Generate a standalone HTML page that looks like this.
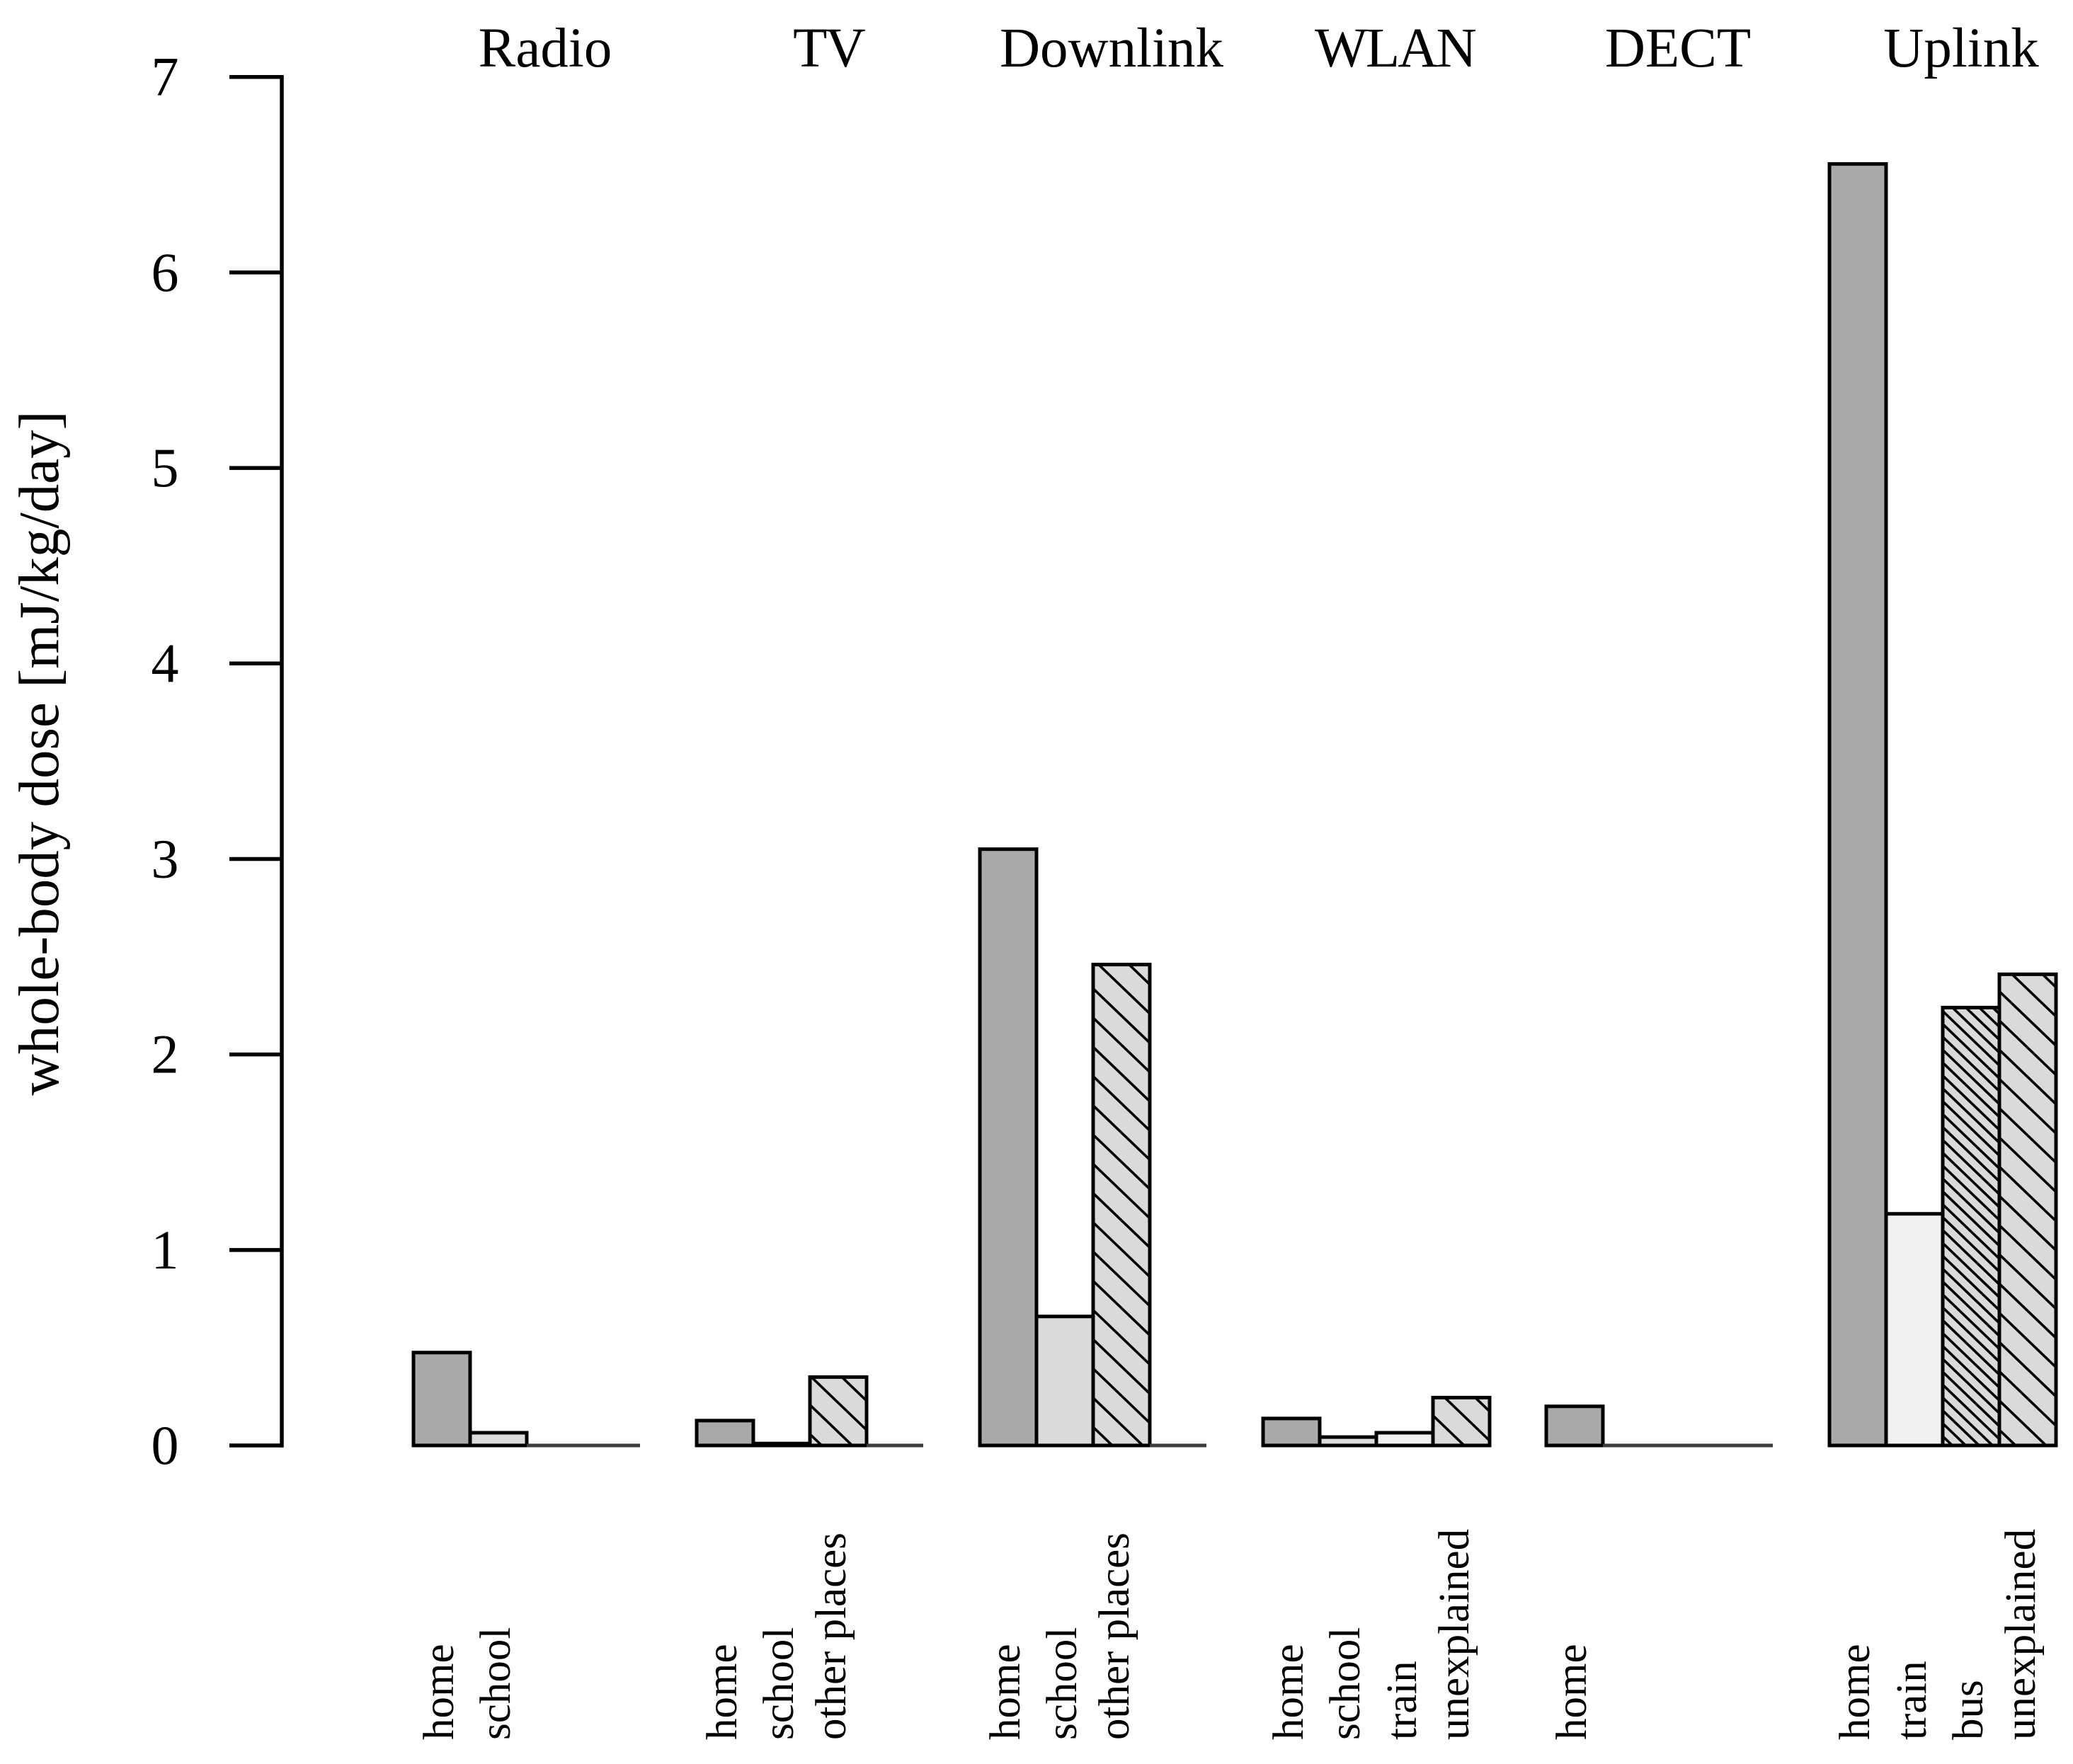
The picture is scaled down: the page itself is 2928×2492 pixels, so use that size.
<!DOCTYPE html>
<html lang="en">
<head>
<meta charset="utf-8">
<title>Whole-body dose by source and location</title>
<style>
html,body{margin:0;padding:0;background:#fff;width:2928px;height:2492px;overflow:hidden}
svg{display:block}
text{font-family:"Liberation Serif",serif;fill:#000}
</style>
</head>
<body>
<svg id="chart" xmlns="http://www.w3.org/2000/svg" width="2928" height="2492" viewBox="0 0 2928 2492">
<defs id="defs"></defs>
<rect x="0" y="0" width="2928" height="2492" fill="#fff"/>
<text transform="translate(82 1064) rotate(-90)" text-anchor="middle" font-size="81">whole-body dose [mJ/kg/day]</text>
<g id="axis"></g>
<g id="bars"></g>
<g id="titles"></g>
<g id="labels"></g>
</svg>
<script>
const groups = ["Radio", "TV", "Downlink", "WLAN", "DECT", "Uplink"];
const radioLabels = ["home", "school", "", ""];
const radioValues = [0.475, 0.065, 0, 0];
const tvLabels = ["home", "school", "other places", ""];
const tvValues = [0.127, 0.01, 0.35, 0];
const downlinkLabels = ["home", "school", "other places", ""];
const downlinkValues = [3.05, 0.66, 2.46, 0];
const wlanLabels = ["home", "school", "train", "unexplained"];
const wlanValues = [0.138, 0.043, 0.065, 0.245];
const dectLabels = ["home", "", "", ""];
const dectValues = [0.2, 0, 0, 0];
const uplinkLabels = ["home", "train", "bus", "unexplained"];
const uplinkValues = [6.555, 1.185, 2.24, 2.41];
const yTicks = [0, 1, 2, 3, 4, 5, 6, 7];

const allLabels = [radioLabels, tvLabels, downlinkLabels, wlanLabels, dectLabels, uplinkLabels];
const allValues = [radioValues, tvValues, downlinkValues, wlanValues, dectValues, uplinkValues];

const NS = "http://www.w3.org/2000/svg";
const Y0 = 2042, Y7 = 108.7, GROUP_X0 = 584, GROUP_STEP = 400, BAR_W = 80;
function yScale(v){ return Y0 - (Y0 - Y7) * v / 7; }
function barLeft(g, i){ return GROUP_X0 + GROUP_STEP * g + BAR_W * i; }
function fillFor(label){
  if(label === "home") return "#a9a9a9";
  if(label === "train") return "#f0f0f0";
  return "#dadada";
}
function hatchFor(name, label){
  if(label === "bus") return {step:18.2, phase:13, width:3.6};
  if(label === "other places" || label === "unexplained"){
    const phase = name === "TV" ? 16 : name === "Downlink" ? 26 : name === "WLAN" ? 1 : 22;
    return {step:41.3, phase:phase, width:3.6};
  }
  return null;
}
function make(tag, attrs, parent){
  const el = document.createElementNS(NS, tag);
  for(const k in attrs) el.setAttribute(k, attrs[k]);
  parent.appendChild(el);
  return el;
}
function slug(s){ return s.toLowerCase().replace(/\s+/g, "-"); }

const axisG = document.getElementById("axis");
const axisLine = make("line", {x1:398, x2:398, y1:yScale(7)-2.75, y2:yScale(0)+2.75, stroke:"#000", "stroke-width":5.5}, axisG);


yTicks.forEach(function(t){
  const tick = make("line", {x1:324, x2:400, y1:yScale(t), y2:yScale(t), stroke:"#000", "stroke-width":5.5}, axisG);
  
  
  const lab = make("text", {x:233, y:yScale(t)+26, "text-anchor":"middle", "font-size":78}, axisG);
  lab.textContent = String(t);
  
  
});

const defs = document.getElementById("defs");
const barsG = document.getElementById("bars");
const titlesG = document.getElementById("titles");
const labelsG = document.getElementById("labels");
const HATCH_SLOPE = 0.96;

groups.forEach(function(name, g){
  const title = make("text", {x:770 + GROUP_STEP * g, y:94, "text-anchor":"middle", "font-size":79}, titlesG);
  title.textContent = name;
  if(name === "WLAN" || name === "TV") title.setAttribute("letter-spacing", "-2.8");
  
  

  allValues[g].forEach(function(v, i){
    const label = allLabels[g][i];
    const x = barLeft(g, i), yt = yScale(v), yb = yScale(0);
    const isEmpty = v === 0;
    const d = "M" + x + " " + yb + "L" + x + " " + yt + "L" + (x + BAR_W) + " " + yt + "L" + (x + BAR_W) + " " + yb + "Z";
    const barG = make("g", {}, barsG);
    
    
    if(!isEmpty){
      make("path", {d:d, fill:fillFor(label)}, barG);
      const hatch = hatchFor(name, label);
      if(hatch){
        const clipId = "clip-" + g + "-" + i;
        const clip = make("clipPath", {id:clipId}, defs);
        make("path", {d:d}, clip);
        const hg = make("g", {"clip-path":"url(#" + clipId + ")", stroke:"#000", "stroke-width":hatch.width}, barG);
        for(let yl = yb - hatch.phase + 2 * hatch.step; yl + BAR_W * HATCH_SLOPE > yt; yl -= hatch.step){
          make("line", {x1:x, y1:yl, x2:x + BAR_W, y2:yl + BAR_W * HATCH_SLOPE}, hg);
        }
      }
    }
    make("path", {d:d, fill:"none", stroke:isEmpty ? "#3a3a3a" : "#000", "stroke-width":5, "stroke-linejoin":"miter"}, barG);

    if(label){
      const tx = x + BAR_W / 2 + (/p/.test(label) ? 10 : 16);
      const txt = make("text", {transform:"translate(" + tx + " 2458) rotate(-90)", "font-size":61}, labelsG);
      txt.textContent = label;
      
      
    }
  });
});
</script>
</body>
</html>
